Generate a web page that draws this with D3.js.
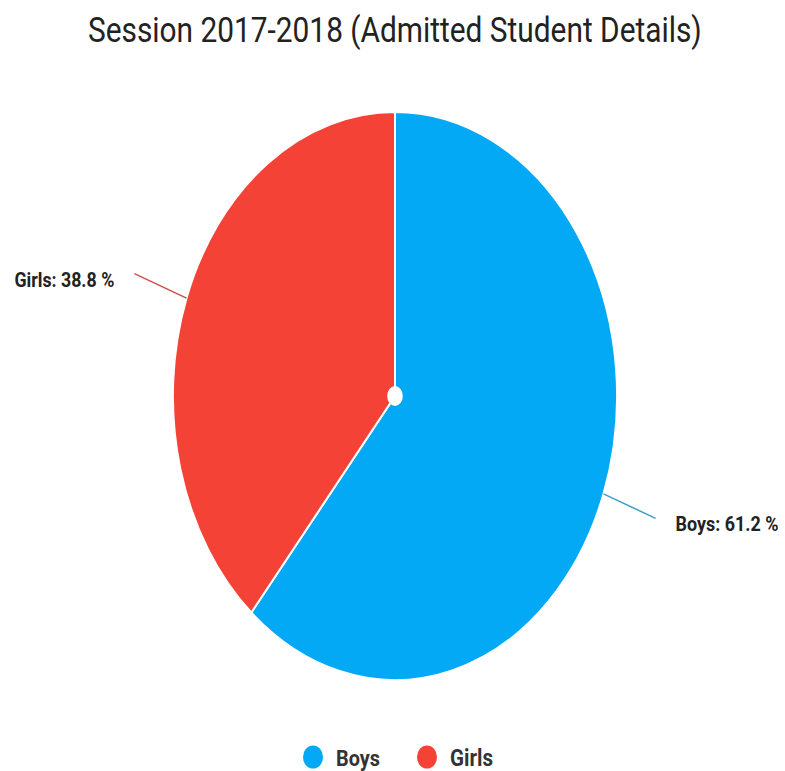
<!DOCTYPE html>
<html>
<head>
<meta charset="utf-8">
<script src="https://cdn.jsdelivr.net/npm/d3@7"></script>
<style>
  html, body { margin: 0; padding: 0; background: #fff; }
  svg { display: block; font-family: Roboto, "Noto Sans", sans-serif; }
</style>
</head>
<body>
<div id="chart"></div>
<script>
// Admitted students by gender, session 2017-2018
const categories = ["Boys", "Girls"];
const shares = [61.2, 38.8];
const colors = ["#03A9F4", "#F44336"];
const lineColors = ["#3c9fc4", "#c9524a"];

const W = 785, H = 771;
const cx = 395, cy = 396;
const radius = 284;
const squash = 0.782; // pie is drawn as a horizontally squeezed ellipse

const data = categories.map((c, i) => ({ name: c, value: shares[i], color: colors[i], line: lineColors[i] }));

const svg = d3.select("#chart").append("svg")
    .attr("width", W)
    .attr("height", H);

// squeeze a text horizontally so it spans `width` px starting (or ending) at x
function squeezedText(x, y, width, anchor, str, attrs) {
    const t = svg.append("text").attr("x", 0).attr("y", 0).text(str);
    Object.entries(attrs).forEach(([k, v]) => t.attr(k, v));
    const natural = t.node().getComputedTextLength();
    const s = width / natural;
    const left = anchor === "end" ? x - width : x;
    t.attr("transform", `translate(${left},${y}) scale(${s},1)`);
    return t;
}

// Title
squeezedText(88, 42, 614, "start", "Session 2017-2018 (Admitted Student Details)",
    { "font-size": "35px", "fill": "#222" });

const pie = d3.pie()
    .sort(null)
    .value(d => d.value);

const arc = d3.arc()
    .innerRadius(0)
    .outerRadius(radius);

const arcs = pie(data);

const g = svg.append("g")
    .attr("transform", `translate(${cx},${cy}) scale(${squash},1)`);

g.selectAll("path.slice")
    .data(arcs)
    .join("path")
    .attr("class", "slice")
    .attr("d", arc)
    .attr("fill", d => d.data.color)
    .attr("stroke", "#fff")
    .attr("stroke-width", 2)
    .attr("vector-effect", "non-scaling-stroke");

// small hole in the middle
g.append("circle")
    .attr("r", 10)
    .attr("fill", "#fff");

// leader lines + labels (computed in circle space, then squeezed)
function toScreen(a, r) {
    return [cx + Math.sin(a) * r * squash, cy - Math.cos(a) * r];
}

arcs.forEach(d => {
    const mid = (d.startAngle + d.endAngle) / 2;
    const p0 = toScreen(mid, radius);
    const p1 = toScreen(mid, radius * 1.25);
    const right = Math.sin(mid) > 0;

    svg.append("line")
        .attr("x1", p0[0]).attr("y1", p0[1])
        .attr("x2", p1[0]).attr("y2", p1[1])
        .attr("stroke", d.data.line)
        .attr("stroke-width", 1.5);

    const label = `${d.data.name}: ${d.data.value.toFixed(1)} %`;
    squeezedText(right ? p1[0] + 20 : p1[0] - 20, p1[1] + 13, right ? 103 : 100,
        right ? "start" : "end", label,
        { "font-size": "20px", "font-weight": "700", "fill": "#222" });
});

// Legend
const legendX = [313, 427];
const legendW = [44, 43];

svg.append("g").selectAll("ellipse")
    .data(data)
    .join("ellipse")
    .attr("cx", (d, i) => legendX[i])
    .attr("cy", 757)
    .attr("rx", 10)
    .attr("ry", 11.5)
    .attr("fill", d => d.color);

data.forEach((d, i) => {
    squeezedText(legendX[i] + 23, 766, legendW[i], "start", d.name,
        { "font-size": "23px", "font-weight": "700", "fill": "#333" });
});
</script>
</body>
</html>
